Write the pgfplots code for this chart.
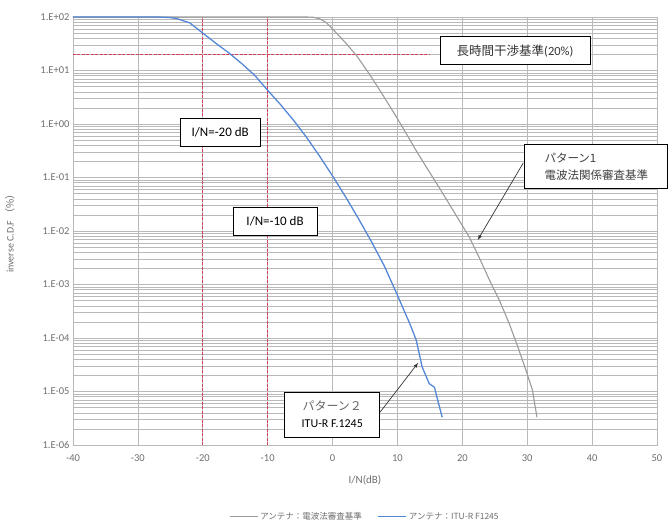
\documentclass[border=0pt]{standalone}
\usepackage{pgfplots}
\pgfplotsset{compat=1.18}
\usepackage{fontspec}
\setmainfont{Carlito}
\newfontfamily\jp{Noto Sans CJK JP}
\definecolor{curvegray}{RGB}{155,155,155}
\definecolor{curveblue}{RGB}{85,135,215}
\definecolor{refred}{RGB}{215,60,90}
\definecolor{gridgray}{RGB}{185,185,185}
\definecolor{labelgray}{RGB}{110,110,110}

\begin{document}
\begin{tikzpicture}[x=1pt,y=1pt]
\path[use as bounding box] (-73,-82) rectangle (599,445);
\begin{axis}[
  at={(0,0)}, anchor=south west,
  scale only axis, width=584pt, height=428pt,
  ymode=log, xmin=-40, xmax=50, ymin=1e-6, ymax=1e2,
  clip=false,
  xtick={-40,-30,...,50},
  ytick={1e-6,1e-5,1e-4,1e-3,1e-2,1e-1,1,10,100},
  yticklabels={1.E-06,1.E-05,1.E-04,1.E-03,1.E-02,1.E-01,1.E+00,1.E+01,1.E+02},
  minor ytick={2e-6,3e-6,4e-6,5e-6,6e-6,7e-6,8e-6,9e-6,
               2e-5,3e-5,4e-5,5e-5,6e-5,7e-5,8e-5,9e-5,
               2e-4,3e-4,4e-4,5e-4,6e-4,7e-4,8e-4,9e-4,
               2e-3,3e-3,4e-3,5e-3,6e-3,7e-3,8e-3,9e-3,
               2e-2,3e-2,4e-2,5e-2,6e-2,7e-2,8e-2,9e-2,
               0.2,0.3,0.4,0.5,0.6,0.7,0.8,0.9,
               2,3,4,5,6,7,8,9,
               20,30,40,50,60,70,80,90},
  grid=both,
  major grid style={gridgray, line width=0.7pt},
  minor grid style={gridgray, line width=0.55pt},
  tick style={draw=none},
  axis line style={gridgray, line width=0.7pt},
  /pgf/number format/assume math mode=true,
  ticklabel style={font=\fontsize{10.5}{12}\selectfont, text=labelgray},
  xticklabel style={yshift=-6pt},
  xlabel={I/N(dB)},
  xlabel style={at={(rel axis cs:0.5,-0.082)}, anchor=center,
                font=\fontsize{11}{13}\selectfont, text=labelgray},
  legend style={at={(rel axis cs:0.5,-0.168)}, anchor=center, draw=none,
                font=\fontsize{8.5}{10}\selectfont\jp, text=labelgray,
                /tikz/every even column/.append style={column sep=14pt}},
  legend columns=2,
  legend image code/.code={\draw[#1, line width=1pt] (0pt,0pt) -- (28pt,0pt);},
]

% reference levels
\addplot[refred, line width=0.9pt, dash pattern=on 3pt off 1.5pt, forget plot]
  coordinates {(-40,20) (15,20)};
\addplot[refred, line width=0.9pt, dash pattern=on 3pt off 1.5pt, forget plot]
  coordinates {(-20,1e-6) (-20,100)};
\addplot[refred, line width=0.9pt, dash pattern=on 3pt off 1.5pt, forget plot]
  coordinates {(-10.05,1e-6) (-10.05,100)};

% pattern 1: Radio Law examination criteria
\addplot[curvegray, line width=1.1pt] coordinates {
  (-40,100) (-4,100) (-3,99) (-2,93) (-1,79) (0,60) (0.6,50) (2,33)
  (3.7,19) (5.7,8.5) (7.8,3.4) (9.8,1.38) (11.4,0.65) (12.9,0.316)
  (14.7,0.14) (16.5,0.063) (19,0.02) (21.1,7.6e-3) (22.7,3e-3)
  (24.2,1.2e-3) (25.8,4.8e-4) (27.2,1.9e-4) (28.6,6.6e-5) (29.8,2.5e-5)
  (30.8,1.07e-5) (31.5,3.3e-6)
};
\addlegendentry{アンテナ：電波法審査基準}

% pattern 2: ITU-R F.1245
\addplot[curveblue, line width=1.3pt] coordinates {
  (-40,100) (-28,100) (-27,99.8) (-26,98.9) (-25,97.5) (-24,93.3) (-22,77.6)
  (-20,50.1) (-18,32.4) (-16,21.4) (-14,13.5) (-12,8.13) (-10,4.27)
  (-8,2.29) (-6,1.17) (-4,0.562) (-2,0.251) (0,0.107) (2,0.0437)
  (4,0.017) (6,6.31e-3) (8,2.19e-3) (10,6.31e-4) (12,1.74e-4)
  (12.9,9.1e-5) (13.8,2.9e-5) (14.9,1.4e-5) (15.7,1.2e-5)
  (16.2,6.9e-6) (16.9,3.3e-6)
};
\addlegendentry{アンテナ：ITU-R F1245}

% annotations
\tikzset{lbl/.style={draw=black, line width=0.9pt, fill=white, inner sep=3pt}}
\node[lbl, minimum width=150pt, minimum height=28pt,
      font=\fontsize{12.5}{14}\selectfont, text=black!80]
  at (rel axis cs:0.757,0.921) {{\jp 長時間干渉基準}(20\%)};
\node[lbl, minimum width=80pt, minimum height=28pt,
      font=\fontsize{13}{14}\selectfont]
  at (rel axis cs:0.252,0.731) {I/N=-20 dB};
\node[lbl, minimum width=84pt, minimum height=28pt,
      font=\fontsize{13}{14}\selectfont]
  at (rel axis cs:0.346,0.523) {I/N=-10 dB};
\node[lbl, minimum width=143pt, minimum height=44pt, align=left,
      font=\fontsize{11.5}{17}\selectfont\jp, text=black!75]
  at (rel axis cs:0.896,0.650) {パターン1\\電波法関係審査基準};
\node[lbl, minimum width=95pt, minimum height=45pt, align=center,
      font=\fontsize{12}{17}\selectfont]
  at (rel axis cs:0.444,0.071) {{\jp\color{black!60}パターン２}\\ITU-R F.1245};

\draw[-latex, line width=0.7pt, black!80]
  (rel axis cs:0.771,0.659) -- (rel axis cs:0.693,0.479);
\draw[-latex, line width=0.7pt, black!80]
  (rel axis cs:0.526,0.077) -- (rel axis cs:0.591,0.192);

% y-axis title
\node[rotate=90, font=\fontsize{10}{12}\selectfont, text=labelgray]
  at (rel axis cs:-0.108,0.5) {inverse C.D.F {\jp（\%）}};
\end{axis}
\end{tikzpicture}
\end{document}
